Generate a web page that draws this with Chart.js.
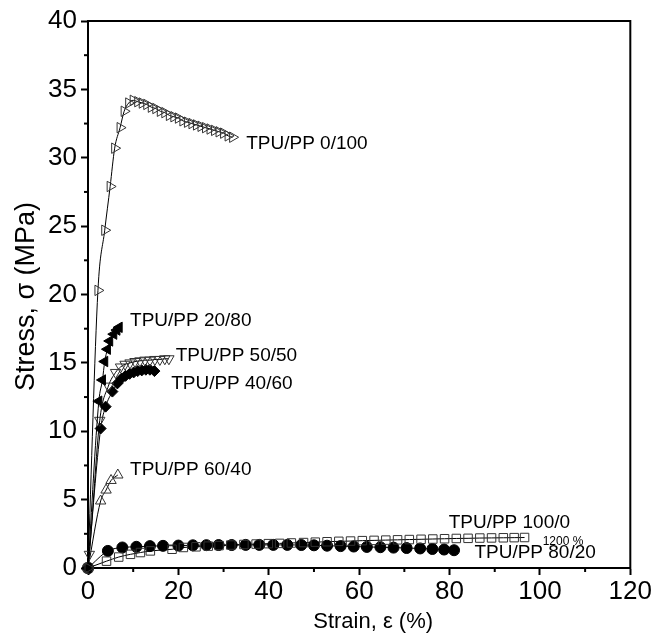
<!DOCTYPE html>
<html><head><meta charset="utf-8">
<script src="https://cdn.jsdelivr.net/npm/chart.js@4"></script>
<style>html,body{margin:0;padding:0;background:#fff}#wrap{width:653px;height:638px;position:relative}</style>
</head><body><div id="wrap"><canvas id="c" width="653" height="638"></canvas></div>
<script>
// ---- data (strain %, stress MPa) ----
const strain_0_100 = [0, 2.2, 3.7, 4.9, 5.9, 7.1, 8.0, 9.0, 10.0, 11.0, 12.0, 13.0, 14.0, 15.0, 16.0, 17.0, 18.0, 19.0, 20.0, 21.0, 22.0, 23.0, 24.0, 25.0, 26.0, 27.0, 28.0, 29.0, 30.0, 31.0, 32.0];
const stress_0_100 = [0, 20.3, 24.7, 27.9, 30.7, 32.2, 33.4, 34.0, 34.2, 34.1, 34.0, 33.9, 33.7, 33.6, 33.4, 33.3, 33.1, 33.0, 32.9, 32.7, 32.6, 32.5, 32.4, 32.3, 32.2, 32.1, 32.0, 31.9, 31.8, 31.6, 31.5];

const strain_20_80 = [0, 2.4, 3.2, 3.7, 4.3, 4.8, 5.7, 6.4, 6.9];
const stress_20_80 = [0, 12.2, 13.75, 15.1, 16.0, 16.6, 17.1, 17.4, 17.6];

const strain_50_50 = [0, 0.3, 2.6, 4.5, 6.1, 7.2, 8.2, 9.3, 10.4, 11.5, 12.6, 13.7, 14.8, 15.9, 17.0, 17.9];
const stress_50_50 = [0, 1.0, 10.8, 13.3, 14.3, 14.7, 14.9, 15.0, 15.1, 15.15, 15.2, 15.2, 15.25, 15.25, 15.3, 15.3];

const strain_40_60 = [0, 2.8, 3.9, 5.4, 6.5, 7.4, 8.3, 9.2, 10.1, 11.0, 11.9, 12.8, 13.7, 14.7];
const stress_40_60 = [0, 10.2, 11.8, 12.9, 13.5, 13.85, 14.05, 14.2, 14.3, 14.4, 14.45, 14.5, 14.5, 14.4];

const strain_60_40 = [0, 2.8, 4.0, 5.1, 6.6];
const stress_60_40 = [0, 4.9, 5.7, 6.4, 6.8];

const strain_100_0 = [0, 4.1, 6.8, 9.4, 11.6, 13.8, 18.6, 21.1, 23.9, 26.6, 29.0, 31.6, 34.5, 37.2, 39.9, 42.4, 45.0, 47.7, 50.3, 52.9, 55.5, 58.1, 60.7, 63.3, 65.9, 68.5, 71.1, 73.7, 76.3, 78.9, 81.5, 84.1, 86.7, 89.3, 91.9, 94.3, 96.6];
const stress_100_0 = [0, 0.5, 0.8, 1.0, 1.13, 1.25, 1.37, 1.5, 1.55, 1.6, 1.64, 1.68, 1.72, 1.75, 1.78, 1.8, 1.83, 1.86, 1.89, 1.92, 1.95, 1.97, 2.0, 2.02, 2.04, 2.06, 2.08, 2.1, 2.12, 2.14, 2.16, 2.17, 2.19, 2.2, 2.21, 2.22, 2.23];

const strain_80_20 = [0, 4.4, 7.6, 10.7, 13.7, 16.6, 20.0, 23.2, 26.2, 28.9, 31.8, 34.9, 37.9, 41.0, 44.1, 47.2, 50.0, 52.9, 55.9, 58.8, 61.7, 64.7, 67.6, 70.5, 73.5, 76.2, 78.8, 81.0];
const stress_80_20 = [0, 1.25, 1.5, 1.55, 1.6, 1.62, 1.64, 1.66, 1.67, 1.68, 1.68, 1.69, 1.69, 1.69, 1.69, 1.68, 1.66, 1.63, 1.6, 1.57, 1.54, 1.52, 1.49, 1.46, 1.43, 1.39, 1.35, 1.3];

const seriesNames = ["TPU/PP 0/100", "TPU/PP 20/80", "TPU/PP 50/50", "TPU/PP 40/60", "TPU/PP 60/40", "TPU/PP 100/0", "TPU/PP 80/20"];
// label anchor (data coords) for each series text
const labelStrain = [35.0, 9.3, 19.4, 18.4, 9.3, 79.8, 85.5];
const labelStress = [31.0, 18.1, 15.5, 13.5, 7.2, 3.3, 1.15];
const noteText = "1200 %";
const xTitle = "Strain, ε (%)";
const yTitle = "Stress, σ (MPa)";
const xTicks = [0, 20, 40, 60, 80, 100, 120];
const yTicks = [0, 5, 10, 15, 20, 25, 30, 35, 40];

const FONT = '"Liberation Sans", Arial, sans-serif';

function pts(xs, ys){ return xs.map((v,i)=>({x:v, y:ys[i]})); }
function ds(label, xs, ys, style, rot, filled, r){
  return {
    label, data: pts(xs, ys), showLine: true,
    borderColor: '#000', borderWidth: 1, tension: 0.4, cubicInterpolationMode: 'monotone',
    pointStyle: style, pointRotation: rot,
    pointRadius: r,
    pointHoverRadius: 0,
    pointBackgroundColor: filled ? '#000' : 'rgba(0,0,0,0)',
    pointBorderColor: filled ? '#000' : '#333',
    pointBorderWidth: 1, clip: false, fill: false
  };
}

const extras = {
  id: 'extras',
  afterDraw(chart){
    const {ctx, chartArea: a, scales: {x, y}} = chart;
    ctx.save();
    ctx.strokeStyle = '#000'; ctx.lineWidth = 2;
    ctx.beginPath(); ctx.moveTo(a.left - 1, a.top); ctx.lineTo(a.right, a.top); ctx.lineTo(a.right, a.bottom + 1); ctx.stroke();
    // minor ticks
    for (let i = 0; i < xTicks.length - 1; i++) {
      const px = x.getPixelForValue((xTicks[i] + xTicks[i+1]) / 2);
      ctx.beginPath(); ctx.moveTo(px, a.bottom); ctx.lineTo(px, a.bottom + 4); ctx.stroke();
    }
    for (let i = 0; i < yTicks.length - 1; i++) {
      const py = y.getPixelForValue((yTicks[i] + yTicks[i+1]) / 2);
      ctx.beginPath(); ctx.moveTo(a.left, py); ctx.lineTo(a.left - 4, py); ctx.stroke();
    }
    ctx.fillStyle = '#000';
    // axis titles
    ctx.textAlign = 'center'; ctx.textBaseline = 'middle';
    ctx.font = '22px ' + FONT;
    ctx.fillText(xTitle, (a.left + a.right) / 2 + 14, 622);
    ctx.save();
    ctx.translate(27, (a.top + a.bottom) / 2 + 2);
    ctx.rotate(-Math.PI / 2);
    ctx.font = '27px ' + FONT;
    ctx.fillText(yTitle, 0, 0);
    ctx.restore();
    // series labels
    ctx.font = '19px ' + FONT;
    ctx.textAlign = 'left'; ctx.textBaseline = 'middle';
    seriesNames.forEach((t, i) => {
      ctx.fillText(t, x.getPixelForValue(labelStrain[i]), y.getPixelForValue(labelStress[i]));
    });
    ctx.font = '12px ' + FONT;
    ctx.fillText(noteText, x.getPixelForValue(100.6), y.getPixelForValue(1.9));
    ctx.restore();
  }
};

new Chart(document.getElementById('c'), {
  type: 'scatter',
  data: { datasets: [
    ds(seriesNames[0], strain_0_100, stress_0_100, 'triangle', 90, false, 6),
    ds(seriesNames[1], strain_20_80, stress_20_80, 'triangle', -90, true, 6),
    ds(seriesNames[2], strain_50_50, stress_50_50, 'triangle', 180, false, 6),
    ds(seriesNames[3], strain_40_60, stress_40_60, 'rectRot', 0, true, 5.5),
    ds(seriesNames[4], strain_60_40, stress_60_40, 'triangle', 0, false, 6),
    ds(seriesNames[5], strain_100_0, stress_100_0, 'rect', 0, false, 6),
    ds(seriesNames[6], strain_80_20, stress_80_20, 'circle', 0, true, 5.5)
  ]},
  options: {
    responsive: false, animation: false,
    layout: { padding: { top: 21, right: 19, left: 0, bottom: 0 } },
    plugins: { legend: { display: false }, tooltip: { enabled: false } },
    scales: {
      x: {
        type: 'linear', min: 0, max: 120,
        afterBuildTicks: s => { s.ticks = xTicks.map(v => ({value: v})); },
        afterFit: s => { s.height = 70; },
        border: { display: true, color: '#000', width: 2 },
        grid: { drawOnChartArea: false, drawTicks: true, tickLength: 7, tickColor: '#000', tickWidth: 2 },
        ticks: { color: '#000', font: { family: FONT, size: 26 }, padding: 1, maxRotation: 0 },
        title: { display: false }
      },
      y: {
        type: 'linear', min: 0, max: 40,
        afterBuildTicks: s => { s.ticks = yTicks.map(v => ({value: v})); },
        afterFit: s => { s.width = 88; },
        border: { display: true, color: '#000', width: 2 },
        grid: { drawOnChartArea: false, drawTicks: true, tickLength: 7, tickColor: '#000', tickWidth: 2 },
        ticks: { color: '#000', font: { family: FONT, size: 26 }, padding: 4 },
        title: { display: false }
      }
    }
  },
  plugins: [extras]
});
</script>
</body></html>
